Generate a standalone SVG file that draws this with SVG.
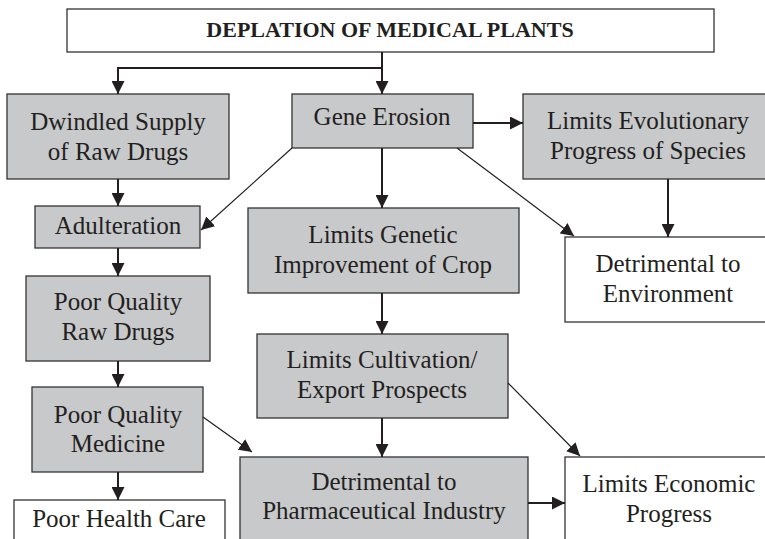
<svg xmlns="http://www.w3.org/2000/svg" width="765" height="539" viewBox="0 0 765 539">
<defs>
<marker id="ah" markerUnits="userSpaceOnUse" markerWidth="13" markerHeight="13" viewBox="0 0 12 12" refX="12" refY="6" orient="auto">
<path d="M0,0 L12,6 L0,12 Z" fill="#231f20"/>
</marker>
<style>
.box{stroke:#333;stroke-width:1.3}
.g{fill:#c8c9cb}
.w{fill:#fff}
text{font-family:"Liberation Serif","Times New Roman",serif;font-size:25px;fill:#231f20;text-anchor:middle}
.t{font-weight:bold;font-size:22px}
.c{fill:none;stroke:#231f20;marker-end:url(#ah)}
.th{stroke-width:2}
.tn{stroke-width:1.2}
</style>
</defs>
<rect width="765" height="539" fill="#fff"/>
<g id="title"><rect class="box w" x="67" y="9" width="647" height="43"/><text class="t" x="390" y="37">DEPLATION OF MEDICAL PLANTS</text></g>
<g id="dwindled"><rect class="box g" x="7" y="94" width="222" height="85"/><text x="118" y="130">Dwindled Supply</text><text x="118" y="160">of Raw Drugs</text></g>
<g id="gene"><rect class="box g" x="292" y="94" width="181" height="54"/><text x="382" y="125">Gene Erosion</text></g>
<g id="evolution"><rect class="box g" x="523" y="94" width="250" height="85"/><text x="648" y="129">Limits Evolutionary</text><text x="648" y="159">Progress of Species</text></g>
<g id="adulteration"><rect class="box g" x="35" y="206" width="165" height="42"/><text x="118" y="234">Adulteration</text></g>
<g id="genetic"><rect class="box g" x="248" y="208" width="271" height="85"/><text x="383" y="243">Limits Genetic</text><text x="383" y="273">Improvement of Crop</text></g>
<g id="environment"><rect class="box w" x="565" y="237" width="208" height="85"/><text x="668" y="272">Detrimental to</text><text x="668" y="302">Environment</text></g>
<g id="rawdrugs"><rect class="box g" x="26" y="276" width="184" height="85"/><text x="118" y="310">Poor Quality</text><text x="118" y="340">Raw Drugs</text></g>
<g id="cultivation"><rect class="box g" x="257" y="334" width="251" height="84"/><text x="382" y="368">Limits Cultivation/</text><text x="382" y="398">Export Prospects</text></g>
<g id="medicine"><rect class="box g" x="32" y="387" width="171" height="85"/><text x="118" y="423">Poor Quality</text><text x="118" y="452">Medicine</text></g>
<g id="healthcare"><rect class="box w" x="14" y="500" width="211" height="50"/><text x="119" y="527">Poor Health Care</text></g>
<g id="pharma"><rect class="box g" x="240" y="457" width="288" height="90"/><text x="384" y="490">Detrimental to</text><text x="384" y="519">Pharmaceutical Industry</text></g>
<g id="economic"><rect class="box w" x="565" y="457" width="208" height="90"/><text x="669" y="492">Limits Economic</text><text x="669" y="522">Progress</text></g>
<g id="connectors">
<path class="c th" d="M382,52 V94"/>
<path class="c th" d="M382,68 H118 V94"/>
<path class="c th" d="M118,179 V206"/>
<path class="c th" d="M473,123 H523"/>
<path class="c th" d="M382,148 V208"/>
<path class="c tn" d="M292,148 L201,230"/>
<path class="c tn" d="M457,148 L574,236"/>
<path class="c th" d="M668,179 V237"/>
<path class="c th" d="M118,248 V276"/>
<path class="c th" d="M382,293 V334"/>
<path class="c th" d="M118,361 V387"/>
<path class="c th" d="M118,472 V500"/>
<path class="c tn" d="M203,417 L252,452"/>
<path class="c th" d="M382,418 V457"/>
<path class="c tn" d="M508,383 L580,456"/>
<path class="c th" d="M528,503 H565"/>
</g>
</svg>
